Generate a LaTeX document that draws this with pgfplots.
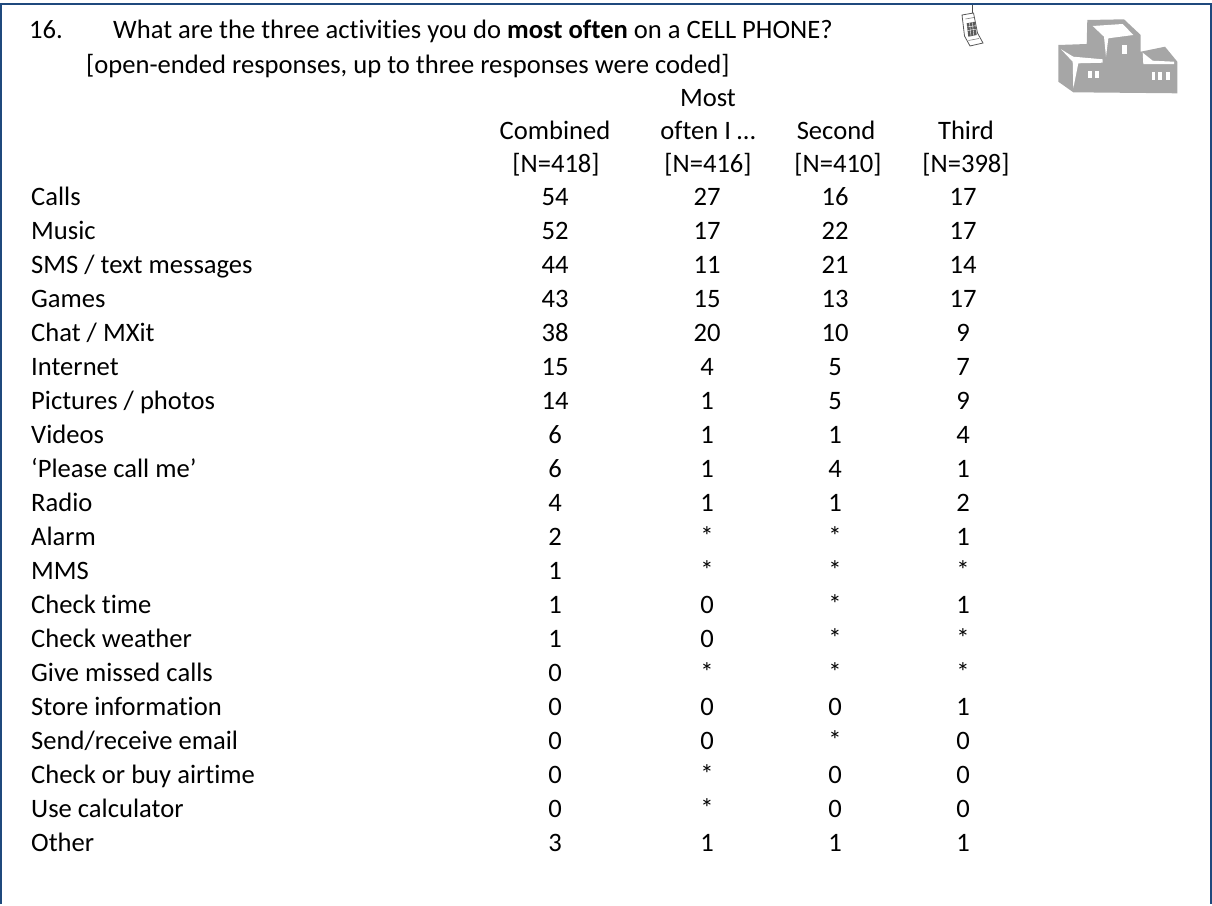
\documentclass[border=0pt]{standalone}
\usepackage{pgfplots}
\pgfplotsset{compat=1.18}
\usepackage{fontspec}
\setmainfont[Ligatures=CommonOff]{Carlito}
\definecolor{bord}{HTML}{1F497D}
\definecolor{bldg}{HTML}{A6A6A6}
\begin{document}
\begin{tikzpicture}
\begin{axis}[
  at={(0,0)}, anchor=south west,
  width=1212pt, height=904pt, scale only axis,
  xmin=0, xmax=1212, ymin=0, ymax=904, y dir=reverse,
  axis lines=none, clip=false, ticks=none,
  nodes near coords style={font=\fontsize{26.6}{32}\selectfont, text=black, inner sep=0pt, anchor=base},
]
\path (0,0) rectangle (1212,904);
% rows
\addplot[draw=none, mark=none, point meta=explicit symbolic, nodes near coords, nodes near coords style={anchor=base west}] table[col sep=comma, x=x, y=y, meta=t] {
x,y,t
31,205,Calls
31,239,Music
31,273,SMS / text messages
31,307,Games
31,341,Chat / MXit
31,375,Internet
31,409,Pictures / photos
31,443,Videos
31,477,‘Please call me’
31,511,Radio
31,545,Alarm
31,579,MMS
31,613,Check time
31,647,Check weather
31,681,Give missed calls
31,715,Store information
31,749,Send/receive email
31,783,Check or buy airtime
31,817,Use calculator
31,851,Other
};
\addplot[draw=none, mark=none, point meta=explicit symbolic, nodes near coords] table[col sep=comma, x=x, y=y, meta=t] {
x,y,t
555,205,54
555,239,52
555,273,44
555,307,43
555,341,38
555,375,15
555,409,14
555,443,6
555,477,6
555,511,4
555,545,2
555,579,1
555,613,1
555,647,1
555,681,0
555,715,0
555,749,0
555,783,0
555,817,0
555,851,3
};
\addplot[draw=none, mark=none, point meta=explicit symbolic, nodes near coords] table[col sep=comma, x=x, y=y, meta=t] {
x,y,t
707,205,27
707,239,17
707,273,11
707,307,15
707,341,20
707,375,4
707,409,1
707,443,1
707,477,1
707,511,1
707,545,*
707,579,*
707,613,0
707,647,0
707,681,*
707,715,0
707,749,0
707,783,*
707,817,*
707,851,1
};
\addplot[draw=none, mark=none, point meta=explicit symbolic, nodes near coords] table[col sep=comma, x=x, y=y, meta=t] {
x,y,t
835,205,16
835,239,22
835,273,21
835,307,13
835,341,10
835,375,5
835,409,5
835,443,1
835,477,4
835,511,1
835,545,*
835,579,*
835,613,*
835,647,*
835,681,*
835,715,0
835,749,*
835,783,0
835,817,0
835,851,1
};
\addplot[draw=none, mark=none, point meta=explicit symbolic, nodes near coords] table[col sep=comma, x=x, y=y, meta=t] {
x,y,t
963,205,17
963,239,17
963,273,14
963,307,17
963,341,9
963,375,7
963,409,9
963,443,4
963,477,1
963,511,2
963,545,1
963,579,*
963,613,1
963,647,*
963,681,*
963,715,1
963,749,0
963,783,0
963,817,0
963,851,1
};
% border
\draw[bord, line width=2pt] (1,904) -- (1,4) -- (1210.7,4) -- (1210.7,904);
% text
\tikzset{tx/.style={font=\fontsize{26.6}{32}\selectfont, inner sep=0pt}}
\node[tx, anchor=base west] at (29,38) {16.};
\node[tx, anchor=base west] at (113,38) {What are the three activities you do \textbf{most often} on a CELL PHONE?};
\node[tx, anchor=base west] at (86,73) {[open-ended responses, up to three responses were coded]};
\node[tx, anchor=base] at (708,106) {Most};
\node[tx, anchor=base] at (555,139) {Combined};
\node[tx, anchor=base] at (708,139) {often I …};
\node[tx, anchor=base] at (836,139) {Second};
\node[tx, anchor=base] at (966,139) {Third};
\node[tx, anchor=base] at (556,172) {[N=418]};
\node[tx, anchor=base] at (708,172) {[N=416]};
\node[tx, anchor=base] at (838,172) {[N=410]};
\node[tx, anchor=base] at (966,172) {[N=398]};
% building
\fill[bldg] (1058.3,45) -- (1086.7,44) -- (1087.3,20) -- (1124,19.3) -- (1140.7,35) -- (1140.7,51.7) -- (1165,46.7) -- (1177.3,61.7) -- (1177.3,93.3) -- (1073.3,92.3) -- (1058.3,81.7) -- cycle;
\fill[white] (1092.7,26) -- (1122.7,24) -- (1133.3,35) -- (1108.3,38.3) -- (1106,56.7) -- (1104,36.7) -- cycle;
\fill[white] (1061,49.3) -- (1073.3,56.7) -- (1102.7,59.3) -- (1102.7,62.7) -- (1078.3,63.3) -- (1073.3,88.3) -- (1072.7,61.7) -- cycle;
\fill[white] (1142.7,52.7) -- (1152.7,60.7) -- (1174,61.7) -- (1174,64) -- (1143.3,64) -- cycle;
\fill[white] (1122.3,45) rectangle (1126.7,54);
\fill[white] (1087.7,70.7) rectangle (1091.7,78.3);
\fill[white] (1095,70.7) rectangle (1099,78.3);
\fill[white] (1151.7,71.7) rectangle (1155,80);
\fill[white] (1158.3,71.7) rectangle (1161.7,80);
\fill[white] (1166,71.7) rectangle (1170,80);
% phone
\draw[black!70, line width=0.8pt] (972.5,5) -- (972.5,14);
\draw[black!65, fill=white, line width=0.8pt] (962,15) -- (973.5,13) -- (977.5,33) -- (983,43) -- (970,46) -- (964.5,36) -- cycle;
\fill[black!65] (966.7,23.3) -- (975,21.7) -- (976.7,35) -- (968.3,36.7) -- cycle;
\draw[white, line width=0.4pt] (969.5,23) -- (971,36) (972.3,22.5) -- (973.8,35.5) (967.2,27) -- (975.5,25.7) (967.7,30.5) -- (976,29.2);
\draw[black!50, line width=0.6pt] (965.5,19) -- (974,17.5);
\draw[black!50, line width=0.6pt] (968.5,40.5) -- (979,38.5);
\end{axis}
\end{tikzpicture}
\end{document}
